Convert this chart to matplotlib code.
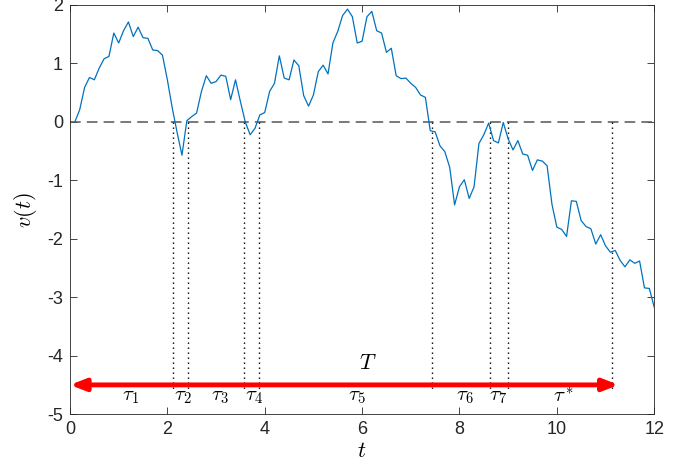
import numpy as np
import matplotlib
matplotlib.use("Agg")
import matplotlib.pyplot as plt

plt.rcParams["font.family"] = ["Liberation Sans", "DejaVu Sans"]
plt.rcParams["mathtext.fontset"] = "cm"
plt.rcParams["axes.unicode_minus"] = False

# sampled path v(t), t = 0.1, 0.2, ..., 12.0
t = np.round(np.arange(1, 121) * 0.1, 1)
v = [
    0.00, 0.21, 0.59, 0.76, 0.72, 0.92, 1.08, 1.12, 1.52, 1.35,
    1.56, 1.71, 1.46, 1.62, 1.44, 1.43, 1.23, 1.22, 1.14, 0.72,
    0.24, -0.18, -0.57, 0.02, 0.09, 0.15, 0.52, 0.79, 0.66, 0.69,
    0.80, 0.78, 0.38, 0.72, 0.35, 0.00, -0.22, -0.11, 0.12, 0.16,
    0.52, 0.66, 1.13, 0.75, 0.72, 1.06, 0.96, 0.45, 0.27, 0.46,
    0.86, 0.97, 0.82, 1.35, 1.55, 1.82, 1.93, 1.80, 1.35, 1.38,
    1.80, 1.89, 1.56, 1.52, 1.19, 1.26, 0.79, 0.74, 0.75, 0.66,
    0.59, 0.46, 0.42, -0.15, -0.17, -0.41, -0.51, -0.78, -1.42, -1.11,
    -0.99, -1.31, -1.11, -0.37, -0.22, -0.02, -0.32, -0.36, -0.01, -0.29,
    -0.48, -0.32, -0.55, -0.57, -0.83, -0.65, -0.67, -0.75, -1.41, -1.80,
    -1.84, -1.96, -1.35, -1.36, -1.69, -1.79, -1.83, -2.09, -1.93, -2.12,
    -2.23, -2.20, -2.37, -2.48, -2.36, -2.42, -2.38, -2.84, -2.85, -3.17,
]

# zero-crossing times and the interval labels between them
crossings = [2.12, 2.42, 3.57, 3.89, 7.44, 8.62, 8.99, 11.13]
interval_labels = [r"$\tau_1$", r"$\tau_2$", r"$\tau_3$", r"$\tau_4$",
                   r"$\tau_5$", r"$\tau_6$", r"$\tau_7$", r"$\tau^*$"]
interval_label_x = [1.25, 2.32, 3.08, 3.77, 5.90, 8.12, 8.79, 10.15]
total_time = 11.27

fig = plt.figure(figsize=(6.93, 4.76), dpi=100)
ax = fig.add_axes([0.101, 0.130, 0.843, 0.8595])

ax.plot(t, v, color="#0072BD", lw=0.9, zorder=3)
ax.axhline(0, color="#555555", lw=1.1, ls=(0, (7, 4)), zorder=2)
for c in crossings:
    ax.plot([c, c], [0, -4.62], color="black", lw=1.0, ls=(0, (1, 2.6)), zorder=2)

ax.annotate("", xy=(total_time, -4.5), xytext=(0, -4.5),
            arrowprops=dict(arrowstyle="<|-|>,head_length=0.9,head_width=0.35",
                            color="#ff0000", lw=3.5, shrinkA=0, shrinkB=0),
            zorder=4)
ax.text(6.12, -4.13, r"$T$", fontsize=16, ha="center", va="center")
for x, lab in zip(interval_label_x, interval_labels):
    ax.text(x, -4.70, lab, fontsize=15, ha="center", va="center")

ax.set_xlim(0, 12)
ax.set_ylim(-5, 2)
ax.set_xticks(range(0, 13, 2))
ax.set_yticks(range(-5, 3))
ax.tick_params(direction="in", top=True, right=True, length=5, width=0.6,
               colors="#262626", labelsize=13, labelcolor="#262626", pad=5)
for s in ax.spines.values():
    s.set_color("#262626")
    s.set_linewidth(0.6)

ax.set_xlabel(r"$t$", fontsize=16, labelpad=2)
ax.set_ylabel(r"$v(t)$", fontsize=16, labelpad=6)

fig.savefig("out.png", dpi=100)
